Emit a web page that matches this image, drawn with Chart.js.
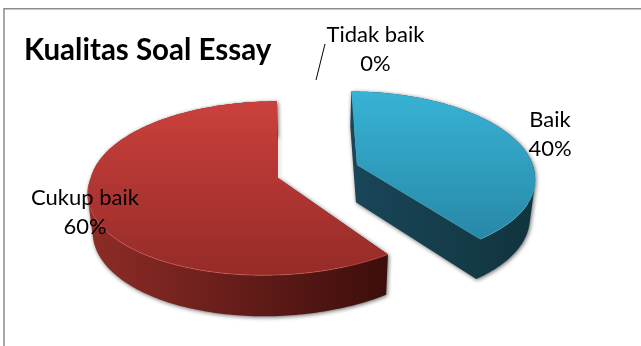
<!DOCTYPE html>
<html>
<head>
<meta charset="utf-8">
<style>
  html, body { margin: 0; padding: 0; background: #fff; }
  canvas { display: block; }
</style>
<script src="https://cdn.jsdelivr.net/npm/chart.js@4"></script>
</head>
<body>
<canvas id="pie" width="641" height="346"></canvas>
<script>
// Essay question quality breakdown, in percent
const categories = ['Baik', 'Cukup baik', 'Tidak baik'];
const shares = [40, 60, 0];
const explode = [42, 0, 0];
const chartTitle = 'Kualitas Soal Essay';

// Look of each slice: top face gradient, wall gradient, front lip
const topColors = [['#37b3d5', '#2888a8'], ['#cb403c', '#952b28'], ['#999', '#777']];
const wallColors = [['#194659', '#11343d'], ['#8f2c27', '#3c0e0c'], ['#444', '#333']];
const lipColors = ['rgba(120,205,225,0.35)', 'rgba(232,110,95,0.5)', 'rgba(0,0,0,0)'];
const frontShear = [0, 12, 0];
const backShear = [3.5, 0, 0];
const sliceWidth = [179, 186, 179];

// Label anchors (centre x, first line y)
const labelAnchors = [[550, 120], [85, 198], [375.5, 35]];
const LINE_GAP = 29;
const FONT = 'Lato, "Open Sans", sans-serif';

// Tilted-plane projection of the unit pie
const SY = 85.6, PERSPECTIVE = 0.126;
const DEPTH = 37.8, DEPTH_TAPER = 0.033, SIDE_TAPER = 0.023, SIDE_VANISH = 32;

function projectPoint(c, ox, oy, angle, r, i) {
  const X = ox + r * Math.cos(angle);
  const Y = oy + r * Math.sin(angle);
  const w = 1 - PERSPECTIVE * Y;
  const skew = frontShear[i] * Math.max(Y, 0) + backShear[i] * Math.min(Y, 0);
  return {
    x: c.x + (sliceWidth[i] * X - skew) / w,
    y: c.y + SY * Y / w
  };
}

function lowerPoint(c, p) {
  return {
    x: p.x + (c.x + SIDE_VANISH - p.x) * SIDE_TAPER,
    y: p.y + DEPTH + DEPTH_TAPER * (p.y - c.y)
  };
}

function sliceOutline(c, arc, offset, i) {
  const mid = (arc.startAngle + arc.endAngle) / 2;
  const o = offset / arc.outerRadius;
  const ox = o * Math.cos(mid), oy = o * Math.sin(mid);
  const pts = [projectPoint(c, ox, oy, 0, 0, i)];
  const steps = Math.ceil((arc.endAngle - arc.startAngle) / 0.02);
  for (let k = 0; k <= steps; k++) {
    const a = arc.startAngle + (arc.endAngle - arc.startAngle) * k / steps;
    pts.push(projectPoint(c, ox, oy, a, 1, i));
  }
  return pts;
}

function addQuad(ctx, a, b, c, d) {
  const area = (b.x - a.x) * (c.y - a.y) - (c.x - a.x) * (b.y - a.y);
  const seq = area >= 0 ? [a, b, c, d] : [d, c, b, a];
  ctx.moveTo(seq[0].x, seq[0].y);
  seq.slice(1).forEach(p => ctx.lineTo(p.x, p.y));
  ctx.closePath();
}

function drawSlice(ctx, c, arc, i, offset) {
  const pts = sliceOutline(c, arc, offset, i);
  const low = pts.map(p => lowerPoint(c, p));
  const xs = pts.map(p => p.x), ys = pts.map(p => p.y);
  const minX = Math.min(...xs), maxX = Math.max(...xs);
  const minY = Math.min(...ys), maxY = Math.max(...ys);

  // Side wall: the outline swept down to the lower face
  ctx.save();
  const wall = ctx.createLinearGradient(minX, 0, maxX, 0);
  wall.addColorStop(0, wallColors[i][0]);
  wall.addColorStop(1, wallColors[i][1]);
  ctx.fillStyle = wall;
  ctx.shadowColor = 'rgba(0,0,0,0.6)';
  ctx.shadowBlur = 4;
  ctx.shadowOffsetX = 1;
  ctx.shadowOffsetY = 1;
  ctx.beginPath();
  for (let k = 0; k < pts.length; k++) {
    const n = (k + 1) % pts.length;
    addQuad(ctx, pts[k], pts[n], low[n], low[k]);
  }
  ctx.fill();
  ctx.restore();

  // Top face
  const face = ctx.createLinearGradient(0, minY, 0, maxY);
  face.addColorStop(0, topColors[i][0]);
  face.addColorStop(1, topColors[i][1]);
  ctx.fillStyle = face;
  ctx.beginPath();
  pts.forEach((p, k) => k ? ctx.lineTo(p.x, p.y) : ctx.moveTo(p.x, p.y));
  ctx.closePath();
  ctx.fill();

  // Light lip where the top face meets the front wall
  ctx.strokeStyle = lipColors[i];
  ctx.lineWidth = 1;
  ctx.beginPath();
  let open = false;
  pts.slice(1).forEach(p => {
    if (p.y > c.y + 8) {
      open ? ctx.lineTo(p.x, p.y) : ctx.moveTo(p.x, p.y);
      open = true;
    }
  });
  ctx.stroke();
}

const pie3d = {
  id: 'pie3d',
  beforeDraw(chart) {
    const ctx = chart.ctx;
    ctx.save();
    ctx.fillStyle = '#fff';
    ctx.fillRect(0, 0, chart.width, chart.height);
    // Chart frame, top and left edges
    ctx.strokeStyle = '#8c8c8c';
    ctx.lineWidth = 1.5;
    ctx.beginPath();
    ctx.moveTo(4, chart.height);
    ctx.lineTo(4, 8.75);
    ctx.lineTo(chart.width, 8.75);
    ctx.stroke();
    ctx.restore();
  },
  beforeDatasetDraw(chart, args) {
    const ctx = chart.ctx;
    const arcs = chart.getDatasetMeta(args.index).data;
    const centre = { x: arcs[0].x, y: arcs[0].y };
    ctx.save();
    arcs.forEach((arc, i) => {
      if (shares[i] > 0 && i === 1) drawSlice(ctx, centre, arc, i, explode[i]);
    });
    arcs.forEach((arc, i) => {
      if (shares[i] > 0 && i !== 1) drawSlice(ctx, centre, arc, i, explode[i]);
    });
    ctx.restore();
    return false;
  },
  afterDraw(chart) {
    const ctx = chart.ctx;
    ctx.save();
    ctx.fillStyle = '#000';
    ctx.font = '22px ' + FONT;
    ctx.textAlign = 'center';
    ctx.textBaseline = 'middle';
    categories.forEach((name, i) => {
      const [x, y] = labelAnchors[i];
      ctx.fillText(name, x, y);
      ctx.fillText(shares[i] + '%', x, y + LINE_GAP);
    });
    // Leader line for the empty slice
    ctx.strokeStyle = '#000';
    ctx.lineWidth = 1;
    ctx.beginPath();
    ctx.moveTo(325, 44);
    ctx.lineTo(316, 80);
    ctx.stroke();
    ctx.restore();
  }
};

new Chart(document.getElementById('pie'), {
  type: 'pie',
  data: {
    labels: categories,
    datasets: [{
      data: shares,
      offset: explode,
      backgroundColor: topColors.map(c => c[0]),
      borderWidth: 0,
      hoverBorderWidth: 0
    }]
  },
  plugins: [pie3d],
  options: {
    responsive: false,
    animation: false,
    events: [],
    layout: { padding: { left: 24, right: 111, top: 32.6, bottom: 59.4 } },
    plugins: {
      legend: { display: false },
      tooltip: { enabled: false },
      title: {
        display: true,
        text: chartTitle,
        align: 'start',
        color: '#000',
        font: { family: FONT, size: 29.5, weight: 'bold' },
        padding: { top: 0, bottom: 0 }
      }
    }
  }
});
</script>
</body>
</html>
